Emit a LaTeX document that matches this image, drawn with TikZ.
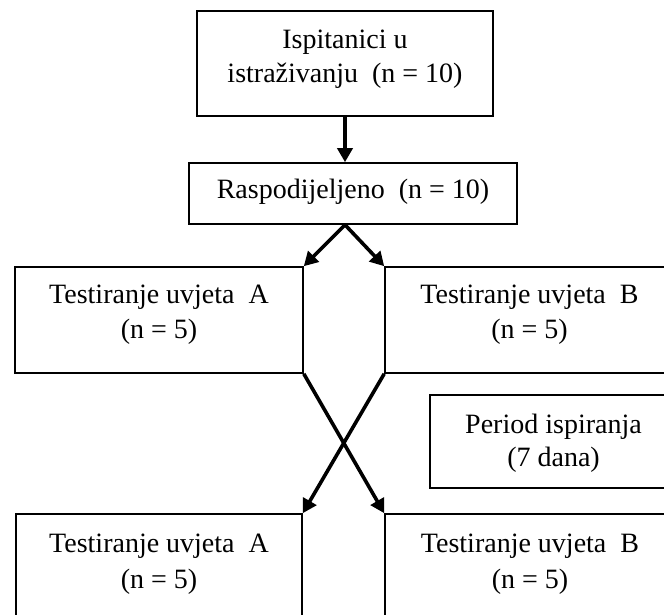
\documentclass[tikz,border=0pt]{standalone}
\usepackage{fontspec}
\setmainfont{Liberation Serif}
\usetikzlibrary{arrows.meta}
\begin{document}
\begin{tikzpicture}[x=1pt,y=-1pt,
  box/.style={draw, line width=1.6pt, inner sep=0pt, fill=none},
  txt/.style={anchor=base, inner sep=0pt, font=\fontsize{28}{34}\selectfont},
  conn/.style={line width=3.6pt, -{Triangle[length=14pt,width=15pt]}}]
\useasboundingbox[fill=white] (0,0) rectangle (664,615);
% boxes
\node[box, minimum width=296pt, minimum height=105pt] (top) at (345,63.5) {};
\node[box, minimum width=328pt, minimum height=61pt] (rasp) at (353,193.5) {};
\node[box, minimum width=288pt, minimum height=106pt] (A1) at (159,320) {};
\node[box, minimum width=289pt, minimum height=106pt] (B1) at (529.5,320) {};
\node[box, minimum width=247pt, minimum height=93pt] (per) at (553.5,441.5) {};
\node[box, minimum width=286pt, minimum height=136pt] (A2) at (159,582) {};
\node[box, minimum width=289pt, minimum height=136pt] (B2) at (529.5,582) {};
% texts
\node[txt] (t1) at (345,49) {Ispitanici u};
\node[txt] (t2) at (345,83) {istraživanju\ \ (n = 10)};
\node[txt] (r1) at (353,198) {Raspodijeljeno\ \ (n = 10)};
\node[txt] (a11) at (159,303) {Testiranje uvjeta\ \ A};
\node[txt] (a12) at (159,338) {(n = 5)};
\node[txt] (b11) at (529.5,303) {Testiranje uvjeta\ \ B};
\node[txt] (b12) at (529.5,338) {(n = 5)};
\node[txt] (p1) at (553.5,433) {Period ispiranja};
\node[txt] (p2) at (553.5,466) {(7 dana)};
\node[txt] (a21) at (159,552) {Testiranje uvjeta\ \ A};
\node[txt] (a22) at (159,588) {(n = 5)};
\node[txt] (b21) at (530,552) {Testiranje uvjeta\ \ B};
\node[txt] (b22) at (530,588) {(n = 5)};
% connectors
\coordinate (split) at (top.south |- rasp.south);
\draw[conn] (top.south) -- (top.south |- rasp.north);
\draw[conn] (split) -- (A1.north east);
\draw[conn] (split) -- (B1.north west);
\draw[conn] (A1.south east) -- (B2.north west);
\draw[conn] (B1.south west) -- (A2.north east);
\end{tikzpicture}
\end{document}
